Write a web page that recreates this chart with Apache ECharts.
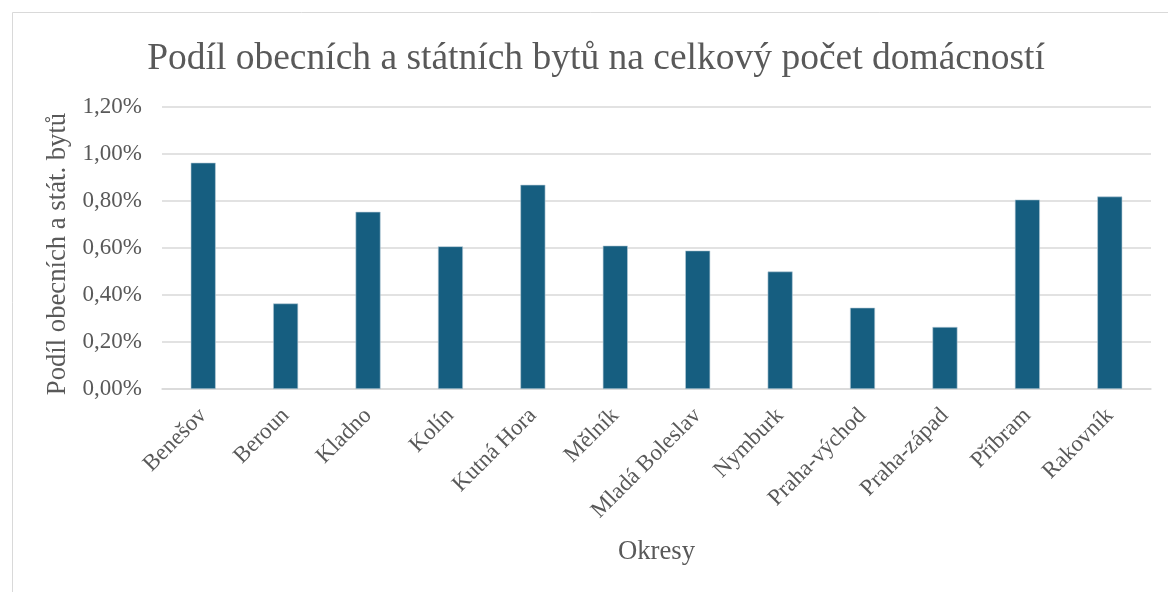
<!DOCTYPE html>
<html>
<head>
<meta charset="utf-8">
<script src="https://cdn.jsdelivr.net/npm/echarts@6/dist/echarts.min.js"></script>
<style>
html,body{margin:0;padding:0;background:#fff;}
#c{width:1168px;height:592px;}
</style>
</head>
<body>
<div id="c"></div>
<script>
const titleText = 'Podíl obecních a státních bytů na celkový počet domácností';
const categories = ['Benešov','Beroun','Kladno','Kolín','Kutná Hora','Mělník','Mladá Boleslav','Nymburk','Praha-východ','Praha-západ','Příbram','Rakovník'];
const shareValues = [0.963, 0.364, 0.754, 0.607, 0.869, 0.610, 0.589, 0.500, 0.346, 0.264, 0.806, 0.819];
const yAxisName = 'Podíl obecních a stát. bytů';
const xAxisName = 'Okresy';

const FONT = '"Liberation Serif", "Times New Roman", serif';
const TXT = '#595959';

const chart = echarts.init(document.getElementById('c'), null, {renderer:'canvas'});
chart.setOption({
  backgroundColor: '#ffffff',
  animation: false,
  graphic: [{
    type: 'rect',
    shape: {x: 12.5, y: 12.5, width: 1200, height: 640},
    style: {fill: 'none', stroke: '#D9D9D9', lineWidth: 1},
    silent: true
  }],
  title: {
    text: titleText,
    left: 591,
    top: 35,
    textAlign: 'center',
    textStyle: {fontFamily: FONT, fontSize: 37.5, fontWeight: 'normal', color: TXT}
  },
  grid: {left: 162, right: 17, top: 107, bottom: 203, containLabel: false},
  xAxis: {
    type: 'category',
    data: categories,
    name: xAxisName,
    nameLocation: 'middle',
    nameGap: 149,
    nameTextStyle: {fontFamily: FONT, fontSize: 26.7, color: TXT},
    axisLine: {show: true, lineStyle: {color: '#D9D9D9', width: 1.5}},
    axisTick: {show: false},
    axisLabel: {
      rotate: 45, interval: 0, margin: 23,
      fontFamily: FONT, fontSize: 23, color: TXT
    }
  },
  yAxis: {
    type: 'value',
    min: 0, max: 1.2, interval: 0.2,
    name: yAxisName,
    nameLocation: 'middle',
    nameGap: 90,
    nameTextStyle: {fontFamily: FONT, fontSize: 26.7, color: TXT, padding: [0, 12, 0, 0]},
    axisLine: {show: false},
    axisTick: {show: false},
    splitLine: {lineStyle: {color: '#D9D9D9', width: 1.5}},
    axisLabel: {
      margin: 20,
      fontFamily: FONT, fontSize: 23, color: TXT,
      formatter: v => v.toFixed(2).replace('.', ',') + '%'
    }
  },
  series: [{
    type: 'bar',
    data: shareValues,
    barWidth: 25,
    itemStyle: {color: '#165E80', borderColor: '#B8CCD8', borderWidth: 0.6},
    z: 3
  }]
});
</script>
</body>
</html>
